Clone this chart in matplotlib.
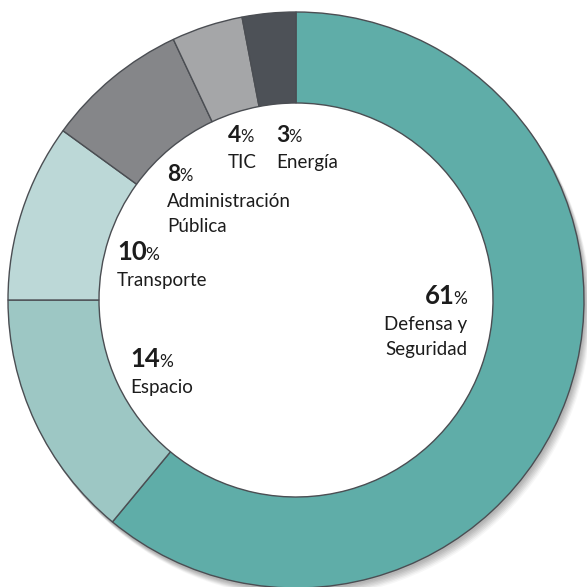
import matplotlib

matplotlib.use("Agg")
import matplotlib.pyplot as plt
from matplotlib import font_manager
from matplotlib.patches import Circle

# data: share of each sector (%), clockwise from 12 o'clock
sectors = ["Defensa y\nSeguridad", "Espacio", "Transporte",
           "Administración\nPública", "TIC", "Energía"]
shares = [61, 14, 10, 8, 4, 3]
colors = ["#5fada8", "#9dc7c4", "#bcd8d7", "#858689", "#a5a6a8", "#4d5157"]

# label anchors in pixel space (x, baseline y of the number, alignment)
label_pos = [(467, 304, "right"), (130, 367, "left"), (117, 260, "left"),
             (167, 181, "left"), (228, 142, "left"), (276, 142, "left")]

W = H = 587
names = {f.name for f in font_manager.fontManager.ttflist}
FONT = "Lato" if "Lato" in names else "DejaVu Sans"
plt.rcParams["font.family"] = [FONT, "DejaVu Sans"]
TXT = "#1c1c1c"

fig = plt.figure(figsize=(W / 100, H / 100), dpi=100)
ax = fig.add_axes([0, 0, 1, 1])
ax.set_xlim(0, W)
ax.set_ylim(0, H)
ax.axis("off")

cx, cy = 296, H - 300
r_out, r_in = 288, 197

# soft drop shadow to the lower right
for k, a in enumerate([0.05, 0.05, 0.05, 0.05, 0.05, 0.04, 0.03]):
    ax.add_patch(Circle((cx + 1 + k * 0.9, cy - 2 - k * 1.2), r_out + 0.5,
                        color="black", alpha=a, lw=0, zorder=0))
ax.add_patch(Circle((cx, cy), r_in, color="white", lw=0, zorder=1))

wedges, _ = ax.pie(shares, colors=colors, startangle=90, counterclock=False,
                   radius=r_out, center=(cx, cy),
                   wedgeprops=dict(width=r_out - r_in, edgecolor="#4b4e53", linewidth=1.0))
for w in wedges:
    w.set_zorder(2)
ax.set_xlim(0, W)
ax.set_ylim(0, H)

fig.canvas.draw()
rend = fig.canvas.get_renderer()


def px_w(t):
    bb = t.get_window_extent(renderer=rend)
    return bb.width


for name, val, (x, yb, ha) in zip(sectors, shares, label_pos):
    big = val >= 10
    nsize = 18.5 if big else 16.5
    psize = 12.5 if big else 12
    y = H - yb
    num = ax.text(x, y, str(val), fontsize=nsize, fontweight="bold", color=TXT,
                  ha="left", va="baseline", zorder=5)
    pct = ax.text(x, y, "%", fontsize=psize, color=TXT, ha="left", va="baseline", zorder=5)
    wn, wp = px_w(num), px_w(pct)
    if ha == "right":
        num.set_x(x - wp - wn + 1.5)
        pct.set_x(x - wp)
    else:
        pct.set_x(x + wn - 1)
    lines = name.split("\n")
    for i, ln in enumerate(lines):
        ax.text(x, y - 26 - i * 25, ln, fontsize=13.5, color=TXT,
                ha=ha, va="baseline", zorder=5)

fig.savefig("out.png", dpi=100)
